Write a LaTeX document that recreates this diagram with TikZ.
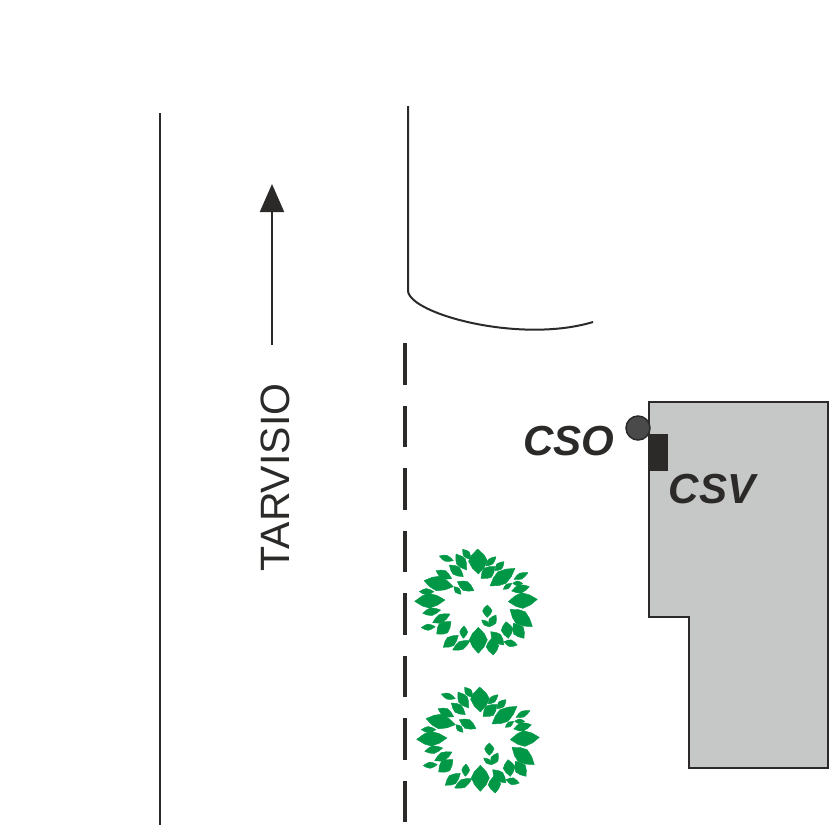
\documentclass[tikz,border=0pt]{standalone}
\usepackage{fontspec}
\setmainfont{Liberation Sans}
\usetikzlibrary{arrows.meta}
\definecolor{ink}{HTML}{2B2A29}
\definecolor{wall}{HTML}{C6C8C7}
\definecolor{dot}{HTML}{4A4A4A}
\definecolor{leafgreen}{HTML}{009846}
\newcommand{\leaf}[5]{%
  \pgfmathsetmacro{\lx}{#3-#1}\pgfmathsetmacro{\ly}{#4-#2}%
  \pgfmathsetmacro{\ll}{max(sqrt(\lx*\lx+\ly*\ly),1)}%
  \pgfmathsetmacro{\px}{-\ly/\ll*#5/1.7}\pgfmathsetmacro{\py}{\lx/\ll*#5/1.7}%
  \fill[leafgreen,draw=leafgreen,line width=.4pt,line join=round] (#1,#2)
    -- ({#1+.25*\lx+.68*\px},{#2+.25*\ly+.68*\py})
    -- ({#1+.48*\lx+\px},{#2+.48*\ly+\py})
    -- ({#1+.75*\lx+.64*\px},{#2+.75*\ly+.64*\py})
    -- (#3,#4)
    -- ({#1+.75*\lx-.64*\px},{#2+.75*\ly-.64*\py})
    -- ({#1+.48*\lx-\px},{#2+.48*\ly-\py})
    -- ({#1+.25*\lx-.68*\px},{#2+.25*\ly-.68*\py})
    -- cycle;%
}
\newcommand{\treeleaves}{%
  \leaf{233}{57}{235}{132}{48}\leaf{118}{78}{160}{92}{16}\leaf{188}{58}{212}{88}{18}
  \leaf{168}{72}{200}{120}{26}\leaf{148}{105}{190}{140}{24}\leaf{108}{122}{155}{146}{22}
  \leaf{72}{152}{160}{170}{38}\leaf{172}{155}{222}{182}{25}\leaf{162}{170}{183}{193}{14}
  \leaf{58}{185}{102}{185}{16}\leaf{44}{214}{135}{210}{38}\leaf{68}{250}{122}{240}{20}
  \leaf{98}{278}{150}{252}{22}\leaf{64}{293}{106}{290}{16}\leaf{110}{312}{153}{275}{32}
  \leaf{130}{352}{175}{316}{26}\leaf{158}{360}{210}{332}{22}\leaf{192}{288}{190}{325}{20}
  \leaf{235}{292}{235}{370}{46}\leaf{275}{325}{280}{375}{32}\leaf{272}{305}{312}{345}{26}
  \leaf{312}{335}{352}{345}{18}\leaf{318}{275}{325}{325}{30}\leaf{340}{280}{372}{325}{30}
  \leaf{330}{238}{397}{290}{38}\leaf{325}{215}{412}{208}{40}\leaf{335}{183}{388}{170}{22}
  \leaf{338}{160}{368}{160}{12}\leaf{310}{178}{335}{160}{12}\leaf{342}{148}{384}{128}{16}
  \leaf{270}{168}{345}{115}{36}\leaf{243}{145}{285}{110}{30}\leaf{285}{122}{312}{95}{18}
  \leaf{258}{108}{288}{80}{16}\leaf{262}{225}{262}{262}{24}\leaf{245}{270}{270}{290}{12}
  \leaf{268}{290}{288}{255}{20}%
}
\tikzset{
  road/.style={draw=ink,line width=2pt},
  label/.style={text=ink,inner sep=0pt,font=\fontsize{41}{41}\selectfont},
  boldlabel/.style={label,font=\fontsize{42}{42}\selectfont\bfseries\itshape}
}
\begin{document}
\begin{tikzpicture}[x=1pt,y=-1pt]
\useasboundingbox (0,0) rectangle (829,828);
% road edges
\draw[road] (160,113) -- (160,825);
\draw[road] (408,106) -- (408,291) .. controls (410,314) and (520,344) .. (593,322);
\draw[draw=ink,line width=4pt,dash pattern=on 41.5pt off 21pt] (405,343) -- (405,822);
% arrow
\coordinate (arrowstart) at (272,345);
\coordinate (arrowtip) at (272,184);
\draw[road,-{Triangle[length=28pt,width=24pt]},color=ink] (arrowstart) -- (arrowtip);
\node[label,rotate=90] (tarvisio) at (275,477.5) {TARVISIO};
% building
\draw[fill=wall,draw=ink,line width=2pt] (649,402) -- (828,402) -- (828,768) -- (689,768) -- (689,617) -- (649,617) -- cycle;
\fill[ink] (648,434) rectangle (668,471);
\draw[fill=dot,draw=ink,line width=1.5pt] (638,428) circle (12);
\node[boldlabel] (cso) at (569,441) {CSO};
\node[boldlabel] (csv) at (712,489.5) {CSV};
% trees
\begin{scope}[shift={(400,530)},x=.3333pt,y=-.3333pt]\treeleaves\end{scope}
\begin{scope}[shift={(402,668)},x=.3333pt,y=-.3333pt]\treeleaves\end{scope}
\end{tikzpicture}
\end{document}
